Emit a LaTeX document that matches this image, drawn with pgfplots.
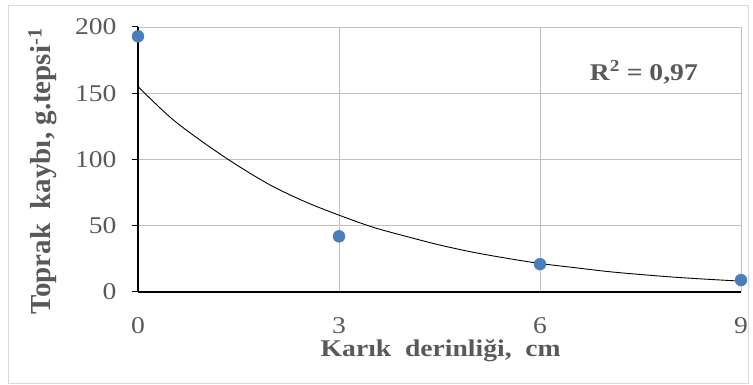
\documentclass[border=0pt]{standalone}
\usepackage{fontspec}
\setmainfont{Liberation Serif}[FakeStretch=1.15]
\newfontfamily\ylfont{Liberation Serif}
\usepackage{pgfplots}
\pgfplotsset{compat=1.18}
\definecolor{txt}{RGB}{89,89,89}
\definecolor{grid}{RGB}{217,217,217}
\definecolor{mk}{RGB}{74,126,187}
\begin{document}
\begin{tikzpicture}[x=1pt,y=1pt]
\path[use as bounding box] (0,0) rectangle (753,385);
\draw[grid, line width=0.8pt] (8,2) rectangle (748,380);
\begin{axis}[
  at={(138pt,93pt)}, anchor=south west,
  scale only axis, width=603pt, height=265pt,
  xmin=0, xmax=9, ymin=0, ymax=200,
  xtick={0,3,6,9}, ytick={0,50,100,150,200},
  axis x line*=bottom, axis y line*=left,
  axis line style={black, line width=1.1pt, -},
  grid=major, major grid style={grid, line width=0.8pt},
  tick align=outside,
  y tick style={black, line width=1pt}, major tick length=6pt,
  x tick style={draw=none},
  /pgf/number format/assume math mode=true,
  ticklabel style={font=\fontsize{24}{24}\selectfont, text=txt},
  xticklabel style={yshift=-16pt},
  yticklabel style={xshift=-12pt},
  xlabel={\textbf{Karık\ \ derinliği,\ \ cm}},
  ylabel={\ylfont\bfseries Toprak\ \ kaybı, g.tepsi\textsuperscript{-1}},
  xlabel style={font=\fontsize{24}{24}\selectfont, text=txt, at={(axis description cs:0.502,-0.222)}, anchor=center},
  ylabel style={font=\fontsize{29}{29}\selectfont, text=txt, at={(axis description cs:-0.158,0.455)}, anchor=center, rotate=0},
  clip mode=individual,
]
\addplot[black, line width=0.9pt, smooth] coordinates {
(0,155) (0.5,131) (1,112) (1.5,95) (2,80) (2.5,68) (3,58) (3.5,49) (4,42)
(4.5,35.5) (5,30) (5.5,25.5) (6,21.5) (6.5,18.5) (7,15.5) (7.5,13.2) (8,11.2) (8.5,9.6) (9,8.2)};
\addplot[only marks, mark=*, mark size=6pt, mark options={fill=mk, draw=mk}] coordinates {
(0,193) (3,42) (6,21) (9,9)};
\node[font=\fontsize{24}{24}\selectfont\bfseries, text=txt] at (axis cs:7.55,166) {R\textsuperscript{2} = 0,97};
\end{axis}
\end{tikzpicture}
\end{document}
